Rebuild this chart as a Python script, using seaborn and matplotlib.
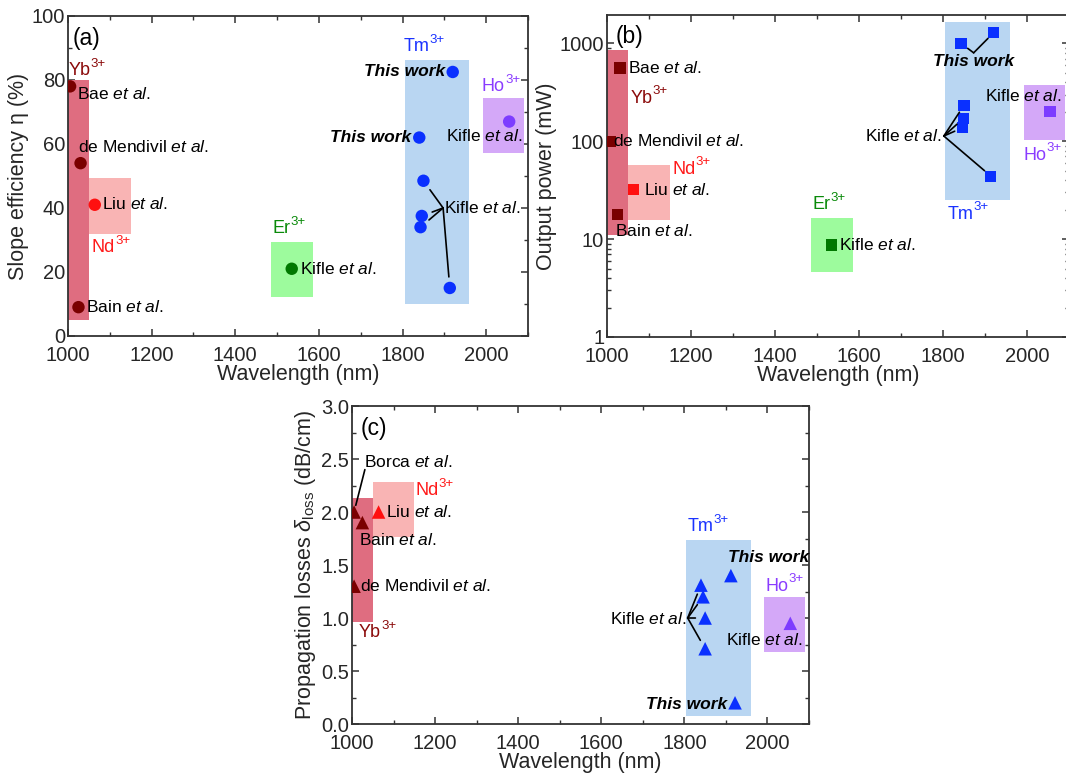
import matplotlib
matplotlib.use('Agg')
import matplotlib.pyplot as plt
import seaborn as sns
import pandas as pd
from matplotlib.patches import Rectangle
from matplotlib.ticker import MultipleLocator, FuncFormatter, LogLocator

# ---- data ----
# (a) slope efficiency (%)
ions_a = ['Yb', 'Yb', 'Yb', 'Nd', 'Er', 'Tm', 'Tm', 'Tm', 'Tm', 'Tm', 'Tm', 'Ho']
refs_a = ['Bae', 'de Mendivil', 'Bain', 'Liu', 'Kifle', 'This work', 'This work',
          'Kifle', 'Kifle', 'Kifle', 'Kifle', 'Kifle']
wl_a = [1005, 1030, 1025, 1064, 1535, 1920, 1840, 1850, 1846, 1843, 1913, 2055]
eta_a = [78, 54, 9, 41, 21, 82.5, 62, 48.5, 37.5, 34, 15, 67]

# (b) output power (mW)
ions_b = ['Yb', 'Yb', 'Yb', 'Nd', 'Er', 'Tm', 'Tm', 'Tm', 'Tm', 'Tm', 'Tm', 'Ho']
refs_b = ['Bae', 'de Mendivil', 'Bain', 'Liu', 'Kifle', 'This work', 'This work',
          'Kifle', 'Kifle', 'Kifle', 'Kifle', 'Kifle']
wl_b = [1031, 1007, 1025, 1064, 1535, 1843, 1921, 1850, 1848, 1846, 1914, 2055]
power_b = [560, 100, 18, 32, 8.7, 1000, 1290, 233, 170, 137, 44, 202]

# (c) propagation losses (dB/cm)
ions_c = ['Yb', 'Yb', 'Yb', 'Nd', 'Tm', 'Tm', 'Tm', 'Tm', 'Tm', 'Tm', 'Ho']
refs_c = ['Borca', 'Bain', 'de Mendivil', 'Liu', 'This work', 'This work',
          'Kifle', 'Kifle', 'Kifle', 'Kifle', 'Kifle']
wl_c = [1005, 1025, 1005, 1064, 1912, 1922, 1840, 1845, 1850, 1850, 2055]
loss_c = [2.0, 1.9, 1.3, 2.0, 1.4, 0.2, 1.31, 1.2, 1.0, 0.71, 0.95]

# shaded wavelength ranges for each ion
box_ions = ['Yb', 'Nd', 'Er', 'Tm', 'Ho']
box_wl_lo = [1000, 1050, 1485, 1805, 1992]
box_wl_hi = [1050, 1150, 1585, 1960, 2090]
box_a_lo = [5, 32, 12.2, 10, 57.2]
box_a_hi = [80, 49.5, 29.5, 86.3, 74.5]
box_b_lo = [11, 15.5, 4.6, 25, 104]
box_b_hi = [850, 57, 16.6, 1650, 375]
box_c_lo = [0.96, 1.76, None, 0.08, 0.68]
box_c_hi = [2.13, 2.28, None, 1.74, 1.2]

ion_colors = {'Yb': '#7a0000', 'Nd': '#ff1010', 'Er': '#007800',
              'Tm': '#0a30ff', 'Ho': '#7d3cff'}
box_colors = {'Yb': '#df6d80', 'Nd': '#f9b4b4', 'Er': '#9dfb9d',
              'Tm': '#b9d6f2', 'Ho': '#d4a8f8'}
text_colors = {'Yb': '#8b0a0a', 'Nd': '#ff1a1a', 'Er': '#0a8a0a',
               'Tm': '#1a33ff', 'Ho': '#8a3cff'}

sns.set_style('ticks')
plt.rcParams['font.family'] = ['Liberation Sans', 'DejaVu Sans']
plt.rcParams['mathtext.fontset'] = 'custom'
plt.rcParams['mathtext.rm'] = 'Liberation Sans'
plt.rcParams['mathtext.it'] = 'Liberation Sans:italic'
plt.rcParams['mathtext.bf'] = 'Liberation Sans:bold'

fig = plt.figure(figsize=(10.66, 7.75), dpi=100)
ax_a = fig.add_axes([0.0638, 0.5665, 0.4315, 0.4129])
ax_b = fig.add_axes([0.5694, 0.5652, 0.4334, 0.4155])
ax_c = fig.add_axes([0.3302, 0.0658, 0.4287, 0.4103])

ETAL = r' $\it{et\ al.}$'
NOTE_SIZE = 12.5


def note(ax, x, y, s, color='black', ha='left', va='center', size=NOTE_SIZE, **kw):
    return ax.text(x, y, s, color=color, ha=ha, va=va, fontsize=size, zorder=5, **kw)


def ion_note(ax, x, y, ion, ha='left', va='center'):
    # ion symbol with a "3+" superscript hung off its right edge
    t = note(ax, x, y, ion, color=text_colors[ion], ha=ha, va=va, size=13)
    ax.annotate('3+', xy=(1.0, 0.55), xycoords=t, ha='left', va='bottom',
                fontsize=9.5, color=text_colors[ion], zorder=5)


def this_work(ax, x, y, ha='right', va='center'):
    note(ax, x, y, 'This work', ha=ha, va=va, fontweight='bold', fontstyle='italic')


def leader(ax, start, end, shrink=5):
    ax.annotate('', xy=end, xytext=start, zorder=4,
                arrowprops=dict(arrowstyle='-', color='black', lw=1.2,
                                shrinkA=0, shrinkB=shrink))


def draw_boxes(ax, lo, hi):
    for ion, x0, x1, y0, y1 in zip(box_ions, box_wl_lo, box_wl_hi, lo, hi):
        if y0 is None:
            continue
        ax.add_patch(Rectangle((x0, y0), x1 - x0, y1 - y0, facecolor=box_colors[ion],
                               edgecolor='none', zorder=1))


def style_axis(ax, ylabel):
    ax.set_xlim(1000, 2100)
    ax.xaxis.set_major_locator(MultipleLocator(200))
    ax.xaxis.set_minor_locator(MultipleLocator(100))
    ax.set_xlabel('Wavelength (nm)', fontsize=15.5, labelpad=-1)
    ax.set_ylabel(ylabel, fontsize=15.5, labelpad=2)
    ax.tick_params(which='both', direction='in', top=True, right=True,
                   labelsize=14.5, color='#333333', pad=2)
    ax.tick_params(axis='x', which='major', pad=7.5)
    ax.tick_params(which='major', length=5, width=1.1)
    ax.tick_params(which='minor', length=3, width=1.0)
    for sp in ax.spines.values():
        sp.set_linewidth(1.3)
        sp.set_color('#333333')


def scatter(ax, wl, val, ions, refs, marker, size):
    df = pd.DataFrame({'wl': wl, 'val': val, 'ion': ions, 'ref': refs})
    sns.scatterplot(data=df, x='wl', y='val', hue='ion', palette=ion_colors,
                    marker=marker, s=size, edgecolor='none', linewidth=0,
                    legend=False, ax=ax, zorder=3)
    return df


# ---------------- (a) slope efficiency ----------------
draw_boxes(ax_a, box_a_lo, box_a_hi)
df_a = scatter(ax_a, wl_a, eta_a, ions_a, refs_a, 'o', 80)
style_axis(ax_a, 'Slope efficiency \u03b7 (%)')
ax_a.set_ylim(0, 100)
ax_a.yaxis.set_major_locator(MultipleLocator(20))
ax_a.yaxis.set_minor_locator(MultipleLocator(10))

note(ax_a, 1012, 93, '(a)', size=16.5)
ion_note(ax_a, 1001, 80.3, 'Yb', va='bottom')
note(ax_a, 1021, 75.5, 'Bae' + ETAL)
note(ax_a, 1023, 59, 'de Mendivil' + ETAL)
note(ax_a, 1081, 41.2, 'Liu' + ETAL)
ion_note(ax_a, 1057, 27.5, 'Nd')
note(ax_a, 1042, 9.2, 'Bain' + ETAL)
ion_note(ax_a, 1488, 33.5, 'Er')
note(ax_a, 1554, 21, 'Kifle' + ETAL)
ion_note(ax_a, 1802, 90.5, 'Tm')
this_work(ax_a, 1903, 82.5)
this_work(ax_a, 1820, 62)
note(ax_a, 1900, 40, 'Kifle' + ETAL)
note(ax_a, 1905, 62.5, 'Kifle' + ETAL)
ion_note(ax_a, 1990, 78, 'Ho')
for _, r in df_a[(df_a.ion == 'Tm') & (df_a.ref == 'Kifle')].iterrows():
    leader(ax_a, (1897, 40), (r.wl, r.val), shrink=8)

# ---------------- (b) output power ----------------
draw_boxes(ax_b, box_b_lo, box_b_hi)
df_b = scatter(ax_b, wl_b, power_b, ions_b, refs_b, 's', 65)
ax_b.set_yscale('log')
style_axis(ax_b, 'Output power (mW)')
ax_b.set_ylim(1, 1950)
ax_b.yaxis.set_major_locator(LogLocator(base=10))
ax_b.yaxis.set_minor_locator(LogLocator(base=10, subs=range(2, 10)))
ax_b.yaxis.set_major_formatter(FuncFormatter(lambda v, _: f'{v:g}'))
ax_b.yaxis.set_minor_formatter(FuncFormatter(lambda v, _: ''))

note(ax_b, 1020, 1170, '(b)', size=16.5)
note(ax_b, 1050, 560, 'Bae' + ETAL)
ion_note(ax_b, 1056, 275, 'Yb')
note(ax_b, 1015, 100, 'de Mendivil' + ETAL)
ion_note(ax_b, 1155, 52, 'Nd')
note(ax_b, 1088, 32, 'Liu' + ETAL)
note(ax_b, 1018, 12.2, 'Bain' + ETAL)
ion_note(ax_b, 1490, 22.5, 'Er')
note(ax_b, 1553, 8.7, 'Kifle' + ETAL)
this_work(ax_b, 1872, 650, ha='center')
note(ax_b, 1798, 113, 'Kifle' + ETAL, ha='right')
ion_note(ax_b, 1810, 18, 'Tm')
note(ax_b, 1900, 293, 'Kifle' + ETAL)
ion_note(ax_b, 1992, 72, 'Ho')
for _, r in df_b[(df_b.ion == 'Tm') & (df_b.ref == 'This work')].iterrows():
    leader(ax_b, (1873, 800), (r.wl, r.val), shrink=6)
for _, r in df_b[(df_b.ion == 'Tm') & (df_b.ref == 'Kifle')].iterrows():
    leader(ax_b, (1802, 113), (r.wl, r.val), shrink=6)

# ---------------- (c) propagation losses ----------------
draw_boxes(ax_c, box_c_lo, box_c_hi)
df_c = scatter(ax_c, wl_c, loss_c, ions_c, refs_c, '^', 95)
style_axis(ax_c, r'Propagation losses $\delta_{\rm loss}$ (dB/cm)')
ax_c.set_ylim(0, 3)
ax_c.yaxis.set_major_locator(MultipleLocator(0.5))
ax_c.yaxis.set_minor_locator(MultipleLocator(0.25))
ax_c.yaxis.set_major_formatter(FuncFormatter(lambda v, _: f'{v:.1f}'))

note(ax_c, 1020, 2.79, '(c)', size=16.5)
note(ax_c, 1030, 2.47, 'Borca' + ETAL)
r = df_c[df_c.ref == 'Borca'].iloc[0]
leader(ax_c, (1031, 2.40), (r.wl, r.val), shrink=5)
ion_note(ax_c, 1153, 2.2, 'Nd')
note(ax_c, 1082, 2.0, 'Liu' + ETAL)
note(ax_c, 1018, 1.74, 'Bain' + ETAL)
note(ax_c, 1020, 1.3, 'de Mendivil' + ETAL)
ion_note(ax_c, 1017, 0.86, 'Yb')
ion_note(ax_c, 1808, 1.86, 'Tm')
this_work(ax_c, 1904, 1.57, ha='left')
ion_note(ax_c, 1996, 1.3, 'Ho')
note(ax_c, 1805, 0.99, 'Kifle' + ETAL, ha='right')
note(ax_c, 1900, 0.79, 'Kifle' + ETAL)
this_work(ax_c, 1902, 0.18)
for _, r in df_c[(df_c.ion == 'Tm') & (df_c.ref == 'Kifle')].iterrows():
    leader(ax_c, (1808, 1.0), (r.wl, r.val), shrink=7)

fig.savefig('out.png', dpi=100)
